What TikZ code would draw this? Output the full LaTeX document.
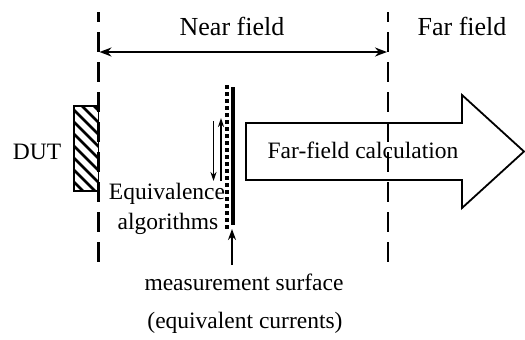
\documentclass[tikz,border=0pt]{standalone}
\usepackage{fontspec}
\setmainfont{Liberation Serif}
\usetikzlibrary{arrows.meta}
\begin{document}
\begin{tikzpicture}[x=1pt,y=-1pt,
  txt/.style={font=\fontsize{23.5}{28}\selectfont, inner sep=0pt, anchor=base},
  toptxt/.style={font=\fontsize{26}{30}\selectfont, inner sep=0pt, anchor=base},
  fieldline/.style={line width=2.6pt, dash pattern=on 20pt off 10pt, dash phase=10pt},
  bigarrow/.style={line width=1.8pt, line join=miter},
  thinarrow/.style={line width=1.4pt, -{Stealth[length=9pt,width=6pt]}},
  dimarrow/.style={line width=1.8pt, {Stealth[length=12pt,width=9pt]}-{Stealth[length=12pt,width=9pt]}},
  ]
\useasboundingbox (0,0) rectangle (525,340);

% field boundaries
\coordinate (L1) at (98.5,12);
\coordinate (L2) at (98.5,262);
\coordinate (R1) at (388,12);
\coordinate (R2) at (388,262);

% DUT box with hatching
\coordinate (dutA) at (74,106);
\coordinate (dutB) at (98.5,191);
\begin{scope}
  \clip (dutA) rectangle (dutB);
  \foreach \k in {-36,-24,...,96} {
    \draw[line width=2.8pt] (70,106+\k) -- (102,138+\k);
  }
\end{scope}
\draw[line width=1.8pt] (dutA) rectangle (dutB);

\draw[fieldline] (L1) -- (L2);
\draw[fieldline] (R1) -- (R2);

% near field dimension arrow
\coordinate (nL) at (99.5,52);
\coordinate (nR) at (387,52);
\draw[dimarrow] (nL) -- (nR);

\node[toptxt] (near) at (232,35) {Near field};
\node[toptxt] (far) at (462,35) {Far field};
\node[txt] (dut) at (37,159) {DUT};

% measurement surface
\coordinate (ms1) at (233,87);
\coordinate (ms2) at (233,225);
\draw[line width=3.3pt] (ms1) -- (ms2);
\coordinate (md1) at (227,85);
\coordinate (md2) at (227,229);
\draw[line width=4pt, dash pattern=on 4pt off 3pt] (md1) -- (md2);

% equivalence arrows
\coordinate (d1) at (213.5,121);
\coordinate (d2) at (213.5,181);
\coordinate (u1) at (221,181);
\coordinate (u2) at (221,118);
\draw[thinarrow] (d1) -- (d2);
\draw[thinarrow] (u1) -- (u2);

\node[txt] (eq1) at (167,199) {Equivalence};
\node[txt] (eq2) at (168,229) {algorithms};

% far field calculation arrow
\draw[bigarrow] (246,123) -- (462,123) -- (462,95) -- (524,151.5) -- (462,208) -- (462,180) -- (246,180) -- cycle;
\node[txt] (ffc) at (363,158) {Far-field calculation};

% measurement surface pointer
\coordinate (mp1) at (232,265);
\coordinate (mp2) at (232,229);
\draw[line width=1.8pt, -{Stealth[length=11pt,width=8pt]}] (mp1) -- (mp2);

\node[txt] (ms) at (244,290) {measurement surface};
\node[txt] (ec) at (245,328) {(equivalent currents)};
\end{tikzpicture}
\end{document}
